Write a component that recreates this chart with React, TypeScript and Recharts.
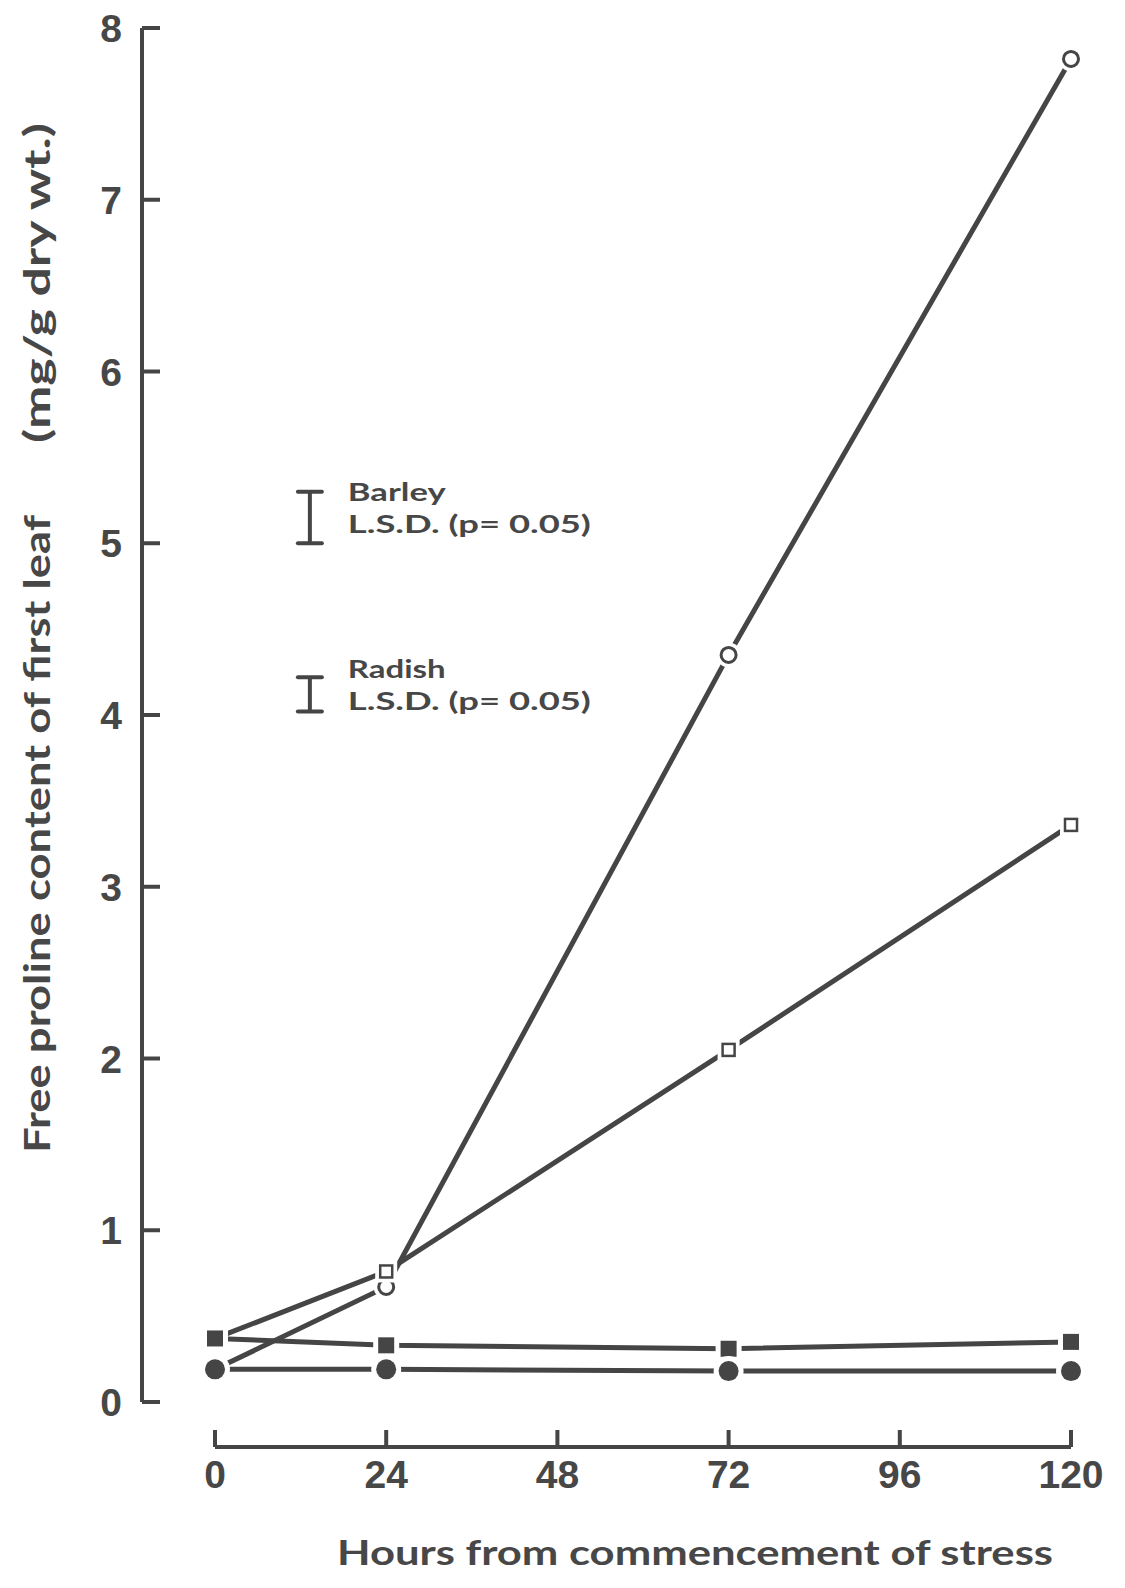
import React from "react";
import { LineChart, Line, XAxis, YAxis, ReferenceLine } from "recharts";

// hours after stress began
const hours = [0, 24, 72, 120];
// series, named by their marker
const openCircle = [0.19, 0.67, 4.35, 7.82];
const openSquare = [0.37, 0.76, 2.05, 3.36];
const filledSquare = [0.37, 0.33, 0.31, 0.35];
const filledCircle = [0.19, 0.19, 0.18, 0.18];

const xTicks = [0, 24, 48, 72, 96, 120];
const yTicks = [0, 1, 2, 3, 4, 5, 6, 7, 8];

// L.S.D. bars (p = 0.05)
const lsdNames = ["Barley", "Radish"];
const lsdAt = [13.3, 13.3];
const lsdLow = [5.0, 4.02];
const lsdHigh = [5.3, 4.22];

const ink = "#454545";
const textInk = "#474747";
const titleFont = "Lato, 'Noto Sans', sans-serif";
const tickFont = "'Liberation Sans', Arial, sans-serif";

const data = hours.map((h, i) => ({
  hour: h,
  openCircle: openCircle[i],
  openSquare: openSquare[i],
  filledSquare: filledSquare[i],
  filledCircle: filledCircle[i],
}));

const marker =
  (kind: "circle" | "square", filled: boolean, skipFirst: boolean) =>
  (props: any) => {
    const { cx, cy, index } = props;
    const key = `m-${kind}-${filled}-${index}`;
    if (cx == null || cy == null || (skipFirst && index === 0)) {
      return <g key={key} />;
    }
    if (kind === "circle") {
      const r = filled ? 10 : 7.5;
      return (
        <g key={key}>
          <circle cx={cx} cy={cy} r={r + 5} fill="#fff" />
          <circle
            cx={cx}
            cy={cy}
            r={r}
            fill={filled ? ink : "#fff"}
            stroke={ink}
            strokeWidth={filled ? 0 : 3}
          />
        </g>
      );
    }
    const s = filled ? 16 : 12;
    return (
      <g key={key}>
        <rect x={cx - s / 2 - 5} y={cy - s / 2 - 5} width={s + 10} height={s + 10} fill="#fff" />
        <rect
          x={cx - s / 2}
          y={cy - s / 2}
          width={s}
          height={s}
          fill={filled ? ink : "#fff"}
          stroke={ink}
          strokeWidth={filled ? 0 : 2.5}
        />
      </g>
    );
  };

const XTick = (props: any) => {
  const { x, y, payload } = props;
  return (
    <g>
      <line x1={x} y1={y + 28} x2={x} y2={y + 45} stroke={ink} strokeWidth={4} />
      <text
        x={x}
        y={y + 86}
        textAnchor="middle"
        fontFamily={tickFont}
        fontWeight={700}
        fontSize={39}
        fill={textInk}
      >
        {payload.value}
      </text>
    </g>
  );
};

const YTick = (props: any) => {
  const { x, y, payload } = props;
  return (
    <g>
      <line x1={x} y1={y} x2={x + 18} y2={y} stroke={ink} strokeWidth={4} />
      <text
        x={x - 20}
        y={y + 14}
        textAnchor="end"
        fontFamily={tickFont}
        fontWeight={700}
        fontSize={39}
        fill={textInk}
      >
        {payload.value}
      </text>
    </g>
  );
};

const lsdShape = (name: string) => (p: any) => {
  const { x1, y1, y2 } = p;
  const top = Math.min(y1, y2);
  const bottom = Math.max(y1, y2);
  const mid = (top + bottom) / 2;
  return (
    <g>
      <line x1={x1} y1={top} x2={x1} y2={bottom} stroke={ink} strokeWidth={4} />
      <line x1={x1 - 12} y1={top} x2={x1 + 12} y2={top} stroke={ink} strokeWidth={4} strokeLinecap="round" />
      <line x1={x1 - 12} y1={bottom} x2={x1 + 12} y2={bottom} stroke={ink} strokeWidth={4} strokeLinecap="round" />
      <text
        x={x1 + 38}
        y={mid - 16}
        fontFamily={titleFont}
        fontWeight={700}
        fontSize={25}
        fill={textInk}
        textLength={name.length * 16.3}
        lengthAdjust="spacingAndGlyphs"
      >
        {name}
      </text>
      <text
        x={x1 + 38}
        y={mid + 16}
        fontFamily={titleFont}
        fontWeight={700}
        fontSize={25}
        fill={textInk}
        textLength={243}
        lengthAdjust="spacingAndGlyphs"
      >
        L.S.D.  (p= 0.05)
      </text>
    </g>
  );
};

export default function App() {
  return (
    <div style={{ position: "absolute", left: 0, top: 0, width: 1125, height: 1588, background: "#fff" }}>
      <LineChart
        width={1125}
        height={1588}
        data={data}
        margin={{ top: 28, right: 54, bottom: 0, left: 0 }}
      >
        <XAxis
          dataKey="hour"
          type="number"
          domain={[0, 120]}
          ticks={xTicks}
          interval={0}
          padding={{ left: 73, right: 0 }}
          height={186}
          axisLine={false}
          tickLine={false}
          tickSize={0}
          tickMargin={0}
          tick={<XTick />}
        />
        <YAxis
          type="number"
          domain={[0, 8]}
          ticks={yTicks}
          interval={0}
          width={142}
          axisLine={{ stroke: ink, strokeWidth: 4 }}
          tickLine={false}
          tickSize={0}
          tickMargin={0}
          tick={<YTick />}
        />
        <ReferenceLine
          segment={[
            { x: 0, y: -0.262 },
            { x: 120, y: -0.262 },
          ]}
          stroke={ink}
          strokeWidth={4}
          ifOverflow="visible"
        />
        {lsdNames.map((name, i) => (
          <ReferenceLine
            key={name}
            segment={[
              { x: lsdAt[i], y: lsdLow[i] },
              { x: lsdAt[i], y: lsdHigh[i] },
            ]}
            ifOverflow="visible"
            shape={lsdShape(name)}
          />
        ))}
        <Line
          dataKey="openCircle"
          stroke={ink}
          strokeWidth={5}
          dot={marker("circle", false, true)}
          activeDot={false}
          isAnimationActive={false}
        />
        <Line
          dataKey="openSquare"
          stroke={ink}
          strokeWidth={5}
          dot={marker("square", false, true)}
          activeDot={false}
          isAnimationActive={false}
        />
        <Line
          dataKey="filledSquare"
          stroke={ink}
          strokeWidth={5}
          dot={marker("square", true, false)}
          activeDot={false}
          isAnimationActive={false}
        />
        <Line
          dataKey="filledCircle"
          stroke={ink}
          strokeWidth={5}
          dot={marker("circle", true, false)}
          activeDot={false}
          isAnimationActive={false}
        />
        <text
          transform="translate(50,1153) rotate(-90)"
          fontFamily={titleFont}
          fontWeight={700}
          fontSize={37}
          fill={textInk}
          textLength={638}
          lengthAdjust="spacingAndGlyphs"
        >
          Free proline content of first leaf
        </text>
        <text
          transform="translate(50,443) rotate(-90)"
          fontFamily={titleFont}
          fontWeight={700}
          fontSize={37}
          fill={textInk}
          textLength={320}
          lengthAdjust="spacingAndGlyphs"
        >
          (mg/g dry wt.)
        </text>
        <text
          x={337}
          y={1565}
          fontFamily={titleFont}
          fontWeight={700}
          fontSize={35}
          fill={textInk}
          textLength={716}
          lengthAdjust="spacingAndGlyphs"
        >
          Hours from commencement of stress
        </text>
      </LineChart>
    </div>
  );
}
